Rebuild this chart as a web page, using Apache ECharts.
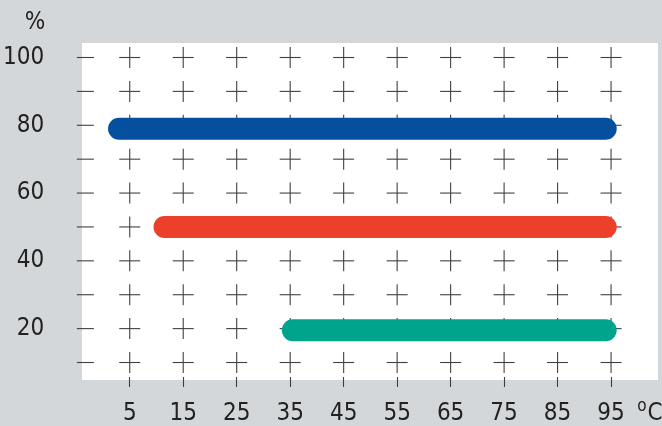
<!DOCTYPE html>
<html>
<head>
<meta charset="utf-8">
<script src="https://cdn.jsdelivr.net/npm/echarts@6/dist/echarts.min.js"></script>
<style>
html,body{margin:0;padding:0;background:#d3d7d9;}
#c{width:662px;height:426px;}
</style>
</head>
<body>
<div id="c"></div>
<script>
// ---- data ----
var xTickValues = [5, 15, 25, 35, 45, 55, 65, 75, 85, 95];
var yTickValues = [10, 20, 30, 40, 50, 60, 70, 80, 90, 100];
var yLabelValues = [20, 40, 60, 80, 100];
var dashX = -3.3;                    // °C position of the left tick column
var seriesNames = ['blue', 'red', 'teal'];
var rangeStart = [3, 11.5, 35.5];   // °C
var rangeEnd = [94, 94, 94];        // °C
var rangeLevel = [79, 50, 19.5];    // %
var seriesColors = ['#05509e', '#ec402a', '#00a38c'];

var FONT = "'Liberation Sans Narrow', 'Arial Narrow', 'DejaVu Sans Condensed', 'Roboto Condensed', sans-serif";

var crossData = [];
xTickValues.forEach(function (x) {
  yTickValues.forEach(function (y) { crossData.push([x, y]); });
});
var dashData = yTickValues.map(function (y) { return [dashX, y]; });

var chart = echarts.init(document.getElementById('c'), null, {renderer: 'canvas'});

var LINE = {stroke: '#404040', lineWidth: 1.1};

var series = [{
  type: 'custom',
  z: 3,
  silent: true,
  data: crossData,
  renderItem: function (params, api) {
    var p = api.coord([api.value(0), api.value(1)]);
    var h = 10.5;
    return {
      type: 'group',
      children: [
        {type: 'line', shape: {x1: p[0] - h, y1: p[1], x2: p[0] + h, y2: p[1]}, style: LINE},
        {type: 'line', shape: {x1: p[0], y1: p[1] - h, x2: p[0], y2: p[1] + h}, style: LINE}
      ]
    };
  }
}, {
  type: 'custom',
  z: 3,
  silent: true,
  clip: false,
  data: dashData,
  renderItem: function (params, api) {
    var p = api.coord([api.value(0), api.value(1)]);
    var h = 8.5;
    return {type: 'line', shape: {x1: p[0] - h, y1: p[1], x2: p[0] + h, y2: p[1]}, style: LINE};
  }
}];

seriesNames.forEach(function (n, i) {
  series.push({
    name: n,
    type: 'line',
    z: 5,
    symbol: 'none',
    silent: true,
    data: [[rangeStart[i], rangeLevel[i]], [rangeEnd[i], rangeLevel[i]]],
    lineStyle: {color: seriesColors[i], width: 22, cap: 'round'}
  });
});

chart.setOption({
  backgroundColor: '#d3d7d9',
  animation: false,
  grid: {left: 102.2, right: 24.2, top: 57.5, bottom: 26.6},
  graphic: [
    {type: 'rect', z: -10, shape: {x: 82, y: 43, width: 576, height: 337}, style: {fill: '#ffffff'}},
    {type: 'text', x: 35, y: 23, style: {text: '%', font: '24px ' + FONT, fill: '#222', align: 'center', verticalAlign: 'middle'}},
    {type: 'text', x: 642, y: 407, style: {text: 'o', font: '17px ' + FONT, fill: '#222', align: 'center', verticalAlign: 'middle'}},
    {type: 'text', x: 655, y: 414, style: {text: 'C', font: '24px ' + FONT, fill: '#222', align: 'center', verticalAlign: 'middle'}}
  ],
  xAxis: {
    type: 'value', min: 0, max: 100,
    offset: -19.4,
    splitLine: {show: false},
    axisLine: {show: false},
    axisTick: {show: true, customValues: xTickValues, length: 10, lineStyle: {color: '#404040', width: 1.1}},
    axisLabel: {customValues: xTickValues, margin: 25, color: '#222', fontSize: 24, fontFamily: FONT}
  },
  yAxis: {
    type: 'value', min: 0, max: 100,
    offset: 26.8,
    splitLine: {show: false},
    axisLine: {show: false},
    axisTick: {show: false},
    axisLabel: {customValues: yLabelValues, margin: 32, color: '#222', fontSize: 24, fontFamily: FONT}
  },
  series: series
});
</script>
</body>
</html>
